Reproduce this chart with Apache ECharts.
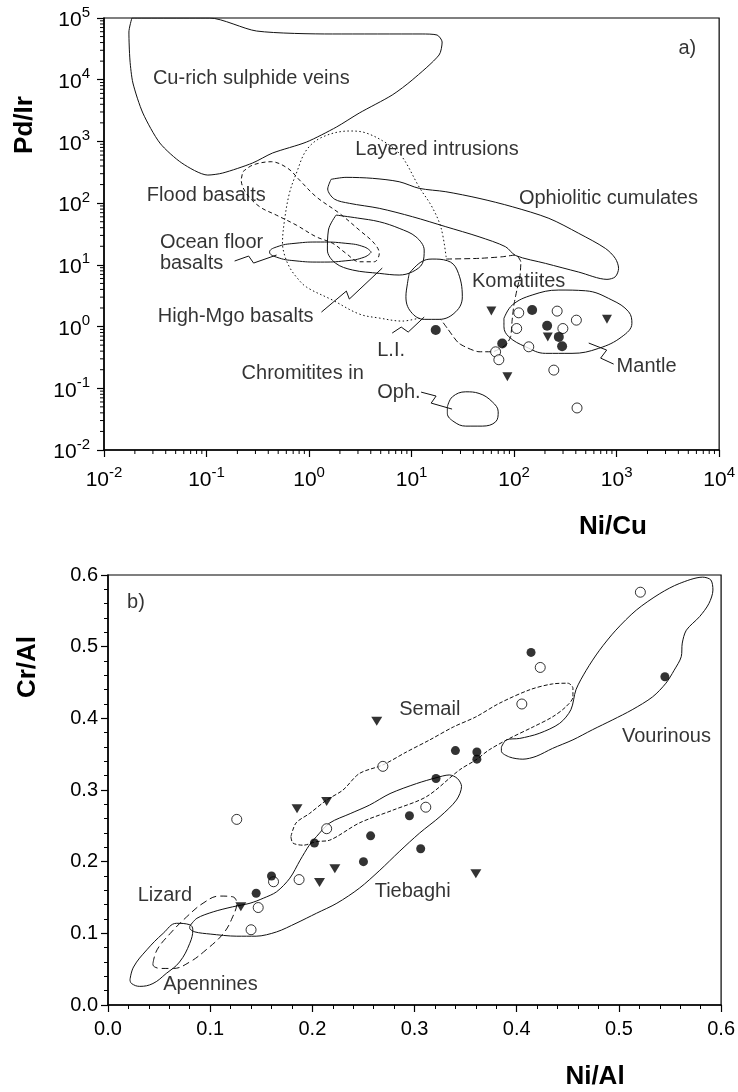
<!DOCTYPE html>
<html><head><meta charset="utf-8">
<script src="https://cdn.jsdelivr.net/npm/echarts@6/dist/echarts.min.js"></script>
<style>html,body{margin:0;padding:0;background:#fff}#c{width:738px;height:1092px}</style>
</head><body><div id="c"></div>
<script>
// ---------- Panel a: Ni/Cu vs Pd/Ir (sample points, real values) ----------
const aFilled = [[17.2,0.88],[76.6,0.53],[150,1.85],[210,1.03],[273,0.68],[294,0.48]];
const aOpen = [[111,1.67],[106,0.93],[66,0.39],[71,0.29],[139,0.47],[263,1.78],[299,0.93],[405,1.27],[244,0.197],[411,0.048]];
const aTri = [[60,1.78],[86,0.154],[213,0.68],[805,1.31]];

// Panel a field outlines, given as [log10(Ni/Cu), log10(Pd/Ir)]
const cuRichLog = [[-1.728,5.0],[-1.757,4.773],[-1.747,4.319],[-1.718,3.947],[-1.621,3.460],[-1.455,2.974],[-1.241,2.650],[-0.988,2.455],[-0.842,2.488],[-0.551,2.650],[-0.356,2.812],[-0.025,2.990],[0.267,3.233],[0.490,3.460],[0.811,3.752],[1.006,3.995],[1.268,4.400],[1.298,4.611],[1.249,4.724],[1.103,4.741],[0.228,4.741],[-0.512,4.789],[-0.969,5.0]];
const floodLog = [[-0.645,2.509],[-0.548,2.618],[-0.369,2.671],[-0.207,2.564],[-0.093,2.374],[0.069,2.104],[0.296,1.835],[0.490,1.564],[0.636,1.349],[0.685,1.186],[0.636,1.050],[0.490,1.050],[0.361,1.186],[0.231,1.349],[0.069,1.455],[-0.125,1.645],[-0.320,1.807],[-0.482,1.942],[-0.612,2.159],[-0.661,2.374]];
const layeredLog = [[1.337,1.126],[1.288,1.596],[1.200,1.937],[1.074,2.261],[0.909,2.747],[0.782,2.942],[0.558,3.136],[0.393,3.169],[0.130,3.071],[-0.025,2.861],[-0.123,2.488],[-0.191,2.164],[-0.239,1.726],[-0.259,1.353],[-0.239,1.159],[-0.191,0.964],[-0.123,0.802],[-0.025,0.640],[0.228,0.430],[0.490,0.203],[0.685,0.138],[0.909,0.089],[1.074,0.138]];
const ophCumLog = [[0.215,2.386],[0.361,2.418],[0.620,2.402],[0.879,2.347],[1.074,2.240],[1.334,2.185],[1.658,2.078],[1.982,1.942],[2.339,1.754],[2.630,1.511],[2.890,1.267],[2.987,1.105],[3.019,0.943],[2.987,0.807],[2.906,0.765],[2.630,0.883],[2.306,1.024],[2.015,1.151],[1.917,1.293],[1.658,1.455],[1.334,1.618],[1.009,1.780],[0.685,1.916],[0.393,1.997],[0.247,2.066],[0.182,2.229]];
const oceanLog = [[0.607,1.207],[0.541,1.289],[0.359,1.349],[0.111,1.370],[-0.137,1.349],[-0.319,1.289],[-0.385,1.207],[-0.319,1.126],[-0.137,1.066],[0.111,1.045],[0.359,1.066],[0.541,1.126]];
const highMgLog = [[0.264,1.807],[0.471,1.759],[0.685,1.699],[0.879,1.592],[1.042,1.455],[1.123,1.240],[1.106,1.024],[1.009,0.888],[0.879,0.835],[0.685,0.862],[0.425,0.916],[0.257,1.029],[0.179,1.240],[0.189,1.564]];
const liLog = [[0.977,0.862],[1.091,1.045],[1.200,1.094],[1.349,1.067],[1.444,0.916],[1.495,0.483],[1.431,0.240],[1.268,0.117],[1.123,0.117],[0.993,0.240],[0.945,0.483],[0.960,0.700]];
const komLog = [[1.337,1.094],[1.658,1.105],[1.884,1.131],[2.015,1.159],[2.066,1.045],[2.056,0.807],[2.027,0.592],[1.998,0.349],[1.981,0.105],[1.966,-0.165],[1.917,-0.300],[1.787,-0.408],[1.658,-0.408],[1.463,-0.272],[1.349,-0.029],[1.285,0.117]];
const mantleLog = [[1.901,0.133],[1.982,0.349],[2.176,0.511],[2.436,0.592],[2.696,0.580],[2.954,0.430],[3.117,0.240],[3.149,0.052],[3.051,-0.165],[2.825,-0.353],[2.565,-0.434],[2.306,-0.434],[2.112,-0.327],[1.949,-0.165],[1.901,-0.003]];
const ophLog = [[1.349,-1.300],[1.398,-1.138],[1.528,-1.057],[1.658,-1.083],[1.787,-1.219],[1.845,-1.381],[1.820,-1.543],[1.690,-1.613],[1.528,-1.613],[1.414,-1.543],[1.349,-1.407]];
// leader lines
const oceanPtrLog = [[-0.726,1.062],[-0.589,1.143],[-0.541,1.029],[-0.317,1.159]];
const highMgPtrLog = [[0.121,0.235],[0.364,0.575],[0.393,0.446],[0.714,0.948]];
const liPtrLog = [[0.811,-0.105],[0.899,-0.008],[0.967,-0.089],[1.123,0.154]];
const ophPtrLog = [[1.093,-1.062],[1.239,-1.126],[1.191,-1.240],[1.395,-1.337]];
const mantlePtrLog = [[2.728,-0.267],[2.903,-0.381],[2.844,-0.511],[2.971,-0.608]];
// field names (anchor = left/middle, log10 units)
const aLabels = [
  ['Cu-rich sulphide veins', -1.523, 4.028],
  ['Layered intrusions', 0.451, 2.877],
  ['Flood basalts', -1.582, 2.131],
  ['Ophiolitic cumulates', 2.047, 2.083],
  ['Ocean floor\nbasalts', -1.455, 1.199],
  ['High-Mgo basalts', -1.475, 0.170],
  ['Komatiites', 1.589, 0.737],
  ['L.I.', 0.665, -0.381],
  ['Mantle', 3.0, -0.640],
  ['Chromitites in', -0.658, -0.754],
  ['Oph.', 0.665, -1.062],
  ['a)', 3.603, 4.514]
];

// ---------- Panel b: Ni/Al vs Cr/Al ----------
const bFilled = [[0.414,0.492],[0.545,0.458],[0.340,0.355],[0.361,0.353],[0.361,0.343],[0.321,0.316],[0.295,0.264],[0.257,0.236],[0.250,0.200],[0.306,0.218],[0.202,0.226],[0.160,0.180],[0.145,0.156]];
const bOpen = [[0.521,0.576],[0.423,0.471],[0.405,0.420],[0.269,0.333],[0.311,0.276],[0.126,0.259],[0.214,0.246],[0.187,0.175],[0.162,0.172],[0.147,0.136],[0.140,0.105]];
const bTri = [[0.263,0.396],[0.185,0.274],[0.214,0.284],[0.222,0.190],[0.207,0.171],[0.130,0.137],[0.360,0.183]];

const vourinous = [[0.385,0.360],[0.390,0.370],[0.403,0.372],[0.422,0.379],[0.442,0.393],[0.453,0.412],[0.458,0.440],[0.468,0.467],[0.481,0.495],[0.497,0.523],[0.517,0.551],[0.540,0.574],[0.559,0.588],[0.582,0.597],[0.590,0.593],[0.592,0.579],[0.588,0.560],[0.579,0.542],[0.566,0.523],[0.562,0.505],[0.561,0.486],[0.554,0.467],[0.546,0.449],[0.533,0.430],[0.513,0.412],[0.494,0.398],[0.474,0.384],[0.455,0.370],[0.435,0.358],[0.419,0.347],[0.406,0.343],[0.393,0.346],[0.385,0.354]];
const semail = [[0.179,0.235],[0.184,0.254],[0.197,0.267],[0.214,0.286],[0.230,0.300],[0.246,0.323],[0.269,0.335],[0.292,0.353],[0.315,0.370],[0.338,0.388],[0.360,0.402],[0.383,0.421],[0.413,0.440],[0.435,0.448],[0.450,0.449],[0.455,0.442],[0.455,0.430],[0.448,0.416],[0.435,0.402],[0.416,0.388],[0.393,0.372],[0.373,0.356],[0.360,0.342],[0.344,0.328],[0.312,0.291],[0.279,0.272],[0.246,0.254],[0.217,0.230],[0.204,0.228],[0.191,0.223],[0.181,0.226]];
const tiebaghi = [[0.080,0.110],[0.087,0.121],[0.103,0.130],[0.122,0.137],[0.139,0.142],[0.152,0.149],[0.165,0.158],[0.178,0.177],[0.188,0.202],[0.197,0.223],[0.204,0.235],[0.217,0.254],[0.237,0.267],[0.256,0.279],[0.276,0.295],[0.302,0.309],[0.321,0.317],[0.334,0.321],[0.342,0.316],[0.346,0.305],[0.341,0.286],[0.325,0.263],[0.305,0.240],[0.285,0.214],[0.266,0.188],[0.246,0.163],[0.224,0.142],[0.204,0.128],[0.184,0.114],[0.165,0.102],[0.145,0.096],[0.126,0.096],[0.100,0.099],[0.085,0.102],[0.080,0.107]];
const apennines = [[0.0215,0.035],[0.025,0.053],[0.038,0.077],[0.054,0.100],[0.067,0.114],[0.080,0.112],[0.083,0.105],[0.080,0.086],[0.070,0.060],[0.057,0.044],[0.044,0.030],[0.031,0.026],[0.023,0.030]];
const lizard = [[0.044,0.058],[0.048,0.077],[0.061,0.100],[0.077,0.123],[0.093,0.142],[0.109,0.152],[0.122,0.151],[0.126,0.142],[0.122,0.123],[0.113,0.100],[0.096,0.077],[0.080,0.060],[0.064,0.051],[0.051,0.051],[0.044,0.056]];
const bLabels = [
  ['b)', 0.0186, 0.561],
  ['Semail', 0.285, 0.412],
  ['Vourinous', 0.503, 0.374],
  ['Tiebaghi', 0.261, 0.158],
  ['Lizard', 0.029, 0.153],
  ['Apennines', 0.054, 0.028]
];

// axis tick values
const aXMajor = [0.01, 0.1, 1, 10, 100, 1000, 10000];
const aYMajor = [0.01, 0.1, 1, 10, 100, 1000, 10000, 100000];

// ---------- build ----------
const FONT = "'Liberation Sans', Arial, Helvetica, sans-serif";
const INK = '#111';
const fromLog = arr => arr.map(p => [Math.pow(10, p[0]), Math.pow(10, p[1])]);
const closed = arr => arr.concat([arr[0]]);
function minorsOf(majors) {
  const out = [];
  for (let i = 0; i < majors.length - 1; i++) for (let m = 2; m <= 9; m++) out.push(+(majors[i] * m).toPrecision(3));
  return out;
}

function outline(data, gi, type, smooth) {
  return {
    type: 'line', xAxisIndex: gi, yAxisIndex: gi, data: data,
    symbol: 'none', showSymbol: false, smooth: smooth === undefined ? 0.35 : smooth,
    lineStyle: { color: INK, width: 1, type: type || 'solid' },
    silent: true, animation: false, z: 2
  };
}
function points(data, gi, kind, size) {
  const s = {
    type: 'scatter', xAxisIndex: gi, yAxisIndex: gi, data: data,
    silent: true, animation: false, z: 5, symbolSize: size
  };
  if (kind === 'filled') { s.symbol = 'circle'; s.itemStyle = { color: '#000' }; }
  if (kind === 'open') { s.symbol = 'circle'; s.itemStyle = { color: '#fff', borderColor: '#000', borderWidth: 1 }; }
  if (kind === 'tri') { s.symbol = 'triangle'; s.symbolRotate = 180; s.itemStyle = { color: '#000' }; }
  return s;
}
function labels(list, gi, isLog) {
  return {
    type: 'scatter', xAxisIndex: gi, yAxisIndex: gi, symbolSize: 0, silent: true, animation: false, z: 6,
    data: list.map(l => ({ name: l[0], value: isLog ? [Math.pow(10, l[1]), Math.pow(10, l[2])] : [l[1], l[2]] })),
    label: { show: true, position: 'right', distance: 0, formatter: '{b}', color: '#000',
      fontFamily: FONT, fontSize: 20, lineHeight: 21 }
  };
}
function minorTicks(values, gi, axis, base) {
  return {
    type: 'custom', xAxisIndex: gi, yAxisIndex: gi, silent: true, animation: false, clip: false, z: 3,
    data: values.map(v => axis === 'x' ? [v, base] : [base, v]),
    renderItem: function (params, api) {
      const p = api.coord([api.value(0), api.value(1)]);
      const shape = axis === 'x' ? { x1: p[0], y1: p[1], x2: p[0], y2: p[1] + 4 }
                                 : { x1: p[0] - 4, y1: p[1], x2: p[0], y2: p[1] };
      return { type: 'line', shape: shape, style: { stroke: '#000', lineWidth: 1 } };
    }
  };
}

const logLabel = {
  formatter: v => '{b|10}{s|' + Math.round(Math.log10(v)) + '}',
  rich: {
    b: { fontSize: 21, fontFamily: FONT, color: '#000', verticalAlign: 'bottom', padding: [5, 0, 0, 0] },
    s: { fontSize: 15, fontFamily: FONT, color: '#000', verticalAlign: 'top' }
  }
};
const axisLine = { show: true, lineStyle: { color: '#000', width: 1.5 } };

const option = {
  backgroundColor: '#fff',
  animation: false,
  grid: [
    { left: 104, top: 18, width: 616, height: 432, show: true, borderColor: '#000', borderWidth: 1.2, backgroundColor: 'transparent' },
    { left: 108, top: 575, width: 614, height: 430, show: true, borderColor: '#000', borderWidth: 1.2, backgroundColor: 'transparent' }
  ],
  xAxis: [
    { type: 'log', gridIndex: 0, logBase: 10, min: 0.01, max: 10000, axisLine: axisLine,
      axisTick: { show: true, length: 7, lineStyle: { color: '#000', width: 1.2 } },
      splitLine: { show: false },
      axisLabel: Object.assign({ margin: 15 }, logLabel) },
    { type: 'value', gridIndex: 1, min: 0, max: 0.6, interval: 0.1, axisLine: axisLine,
      axisTick: { show: true, length: 7, lineStyle: { color: '#000', width: 1.2 } },
      minorTick: { show: true, splitNumber: 5, length: 4, lineStyle: { color: '#000', width: 1 } },
      splitLine: { show: false },
      axisLabel: { margin: 14, fontSize: 20, fontFamily: FONT, color: '#000', formatter: v => v.toFixed(1) } }
  ],
  yAxis: [
    { type: 'log', gridIndex: 0, logBase: 10, min: 0.01, max: 100000, axisLine: axisLine,
      axisTick: { show: true, length: 7, lineStyle: { color: '#000', width: 1.2 } },
      splitLine: { show: false },
      axisLabel: Object.assign({ margin: 14 }, logLabel) },
    { type: 'value', gridIndex: 1, min: 0, max: 0.6, interval: 0.1, axisLine: axisLine,
      axisTick: { show: true, length: 7, lineStyle: { color: '#000', width: 1.2 } },
      minorTick: { show: true, splitNumber: 5, length: 4, lineStyle: { color: '#000', width: 1 } },
      splitLine: { show: false },
      axisLabel: { margin: 10, fontSize: 20, fontFamily: FONT, color: '#000', formatter: v => v.toFixed(1) } }
  ],
  graphic: [
    { type: 'text', x: 25, y: 125, rotation: Math.PI / 2, style: { text: 'Pd/Ir', font: 'bold 26px ' + FONT, fill: '#000', align: 'center', verticalAlign: 'middle' } },
    { type: 'text', x: 613, y: 527, style: { text: 'Ni/Cu', font: 'bold 26px ' + FONT, fill: '#000', align: 'center', verticalAlign: 'middle' } },
    { type: 'text', x: 28, y: 667, rotation: Math.PI / 2, style: { text: 'Cr/Al', font: 'bold 26px ' + FONT, fill: '#000', align: 'center', verticalAlign: 'middle' } },
    { type: 'text', x: 595, y: 1077, style: { text: 'Ni/Al', font: 'bold 26px ' + FONT, fill: '#000', align: 'center', verticalAlign: 'middle' } }
  ],
  series: [
    // panel a outlines
    outline(fromLog(closed(cuRichLog)), 0, 'solid', 0.25),
    outline(fromLog(closed(floodLog)), 0, [4, 3]),
    outline(fromLog(layeredLog), 0, [1.5, 2.5]),
    outline(fromLog(closed(ophCumLog)), 0, 'solid', 0.3),
    outline(fromLog(closed(oceanLog)), 0, 'solid', 0.5),
    outline(fromLog(closed(highMgLog)), 0, 'solid'),
    outline(fromLog(closed(liLog)), 0, 'solid', 0.4),
    outline(fromLog(komLog), 0, [6, 3], 0.2),
    outline(fromLog(closed(mantleLog)), 0, 'solid', 0.4),
    outline(fromLog(closed(ophLog)), 0, 'solid', 0.4),
    outline(fromLog(oceanPtrLog), 0, 'solid', 0),
    outline(fromLog(highMgPtrLog), 0, 'solid', 0),
    outline(fromLog(liPtrLog), 0, 'solid', 0),
    outline(fromLog(ophPtrLog), 0, 'solid', 0),
    outline(fromLog(mantlePtrLog), 0, 'solid', 0),
    minorTicks(minorsOf(aXMajor), 0, 'x', 0.01),
    minorTicks(minorsOf(aYMajor), 0, 'y', 0.01),
    points(aOpen, 0, 'open', 10),
    points(aFilled, 0, 'filled', 10),
    points(aTri, 0, 'tri', [10, 9]),
    labels(aLabels, 0, true),
    // panel b
    outline(closed(vourinous), 1, 'solid', 0.3),
    outline(closed(semail), 1, [4, 2], 0.3),
    outline(closed(tiebaghi), 1, 'solid', 0.3),
    outline(closed(apennines), 1, 'solid', 0.4),
    outline(closed(lizard), 1, [7, 4], 0.4),
    points(bOpen, 1, 'open', 10),
    points(bFilled, 1, 'filled', 9),
    points(bTri, 1, 'tri', [11, 9]),
    labels(bLabels, 1, false)
  ]
};

const chart = echarts.init(document.getElementById('c'), null, { renderer: 'canvas' });
chart.setOption(option);
</script>
</body></html>
